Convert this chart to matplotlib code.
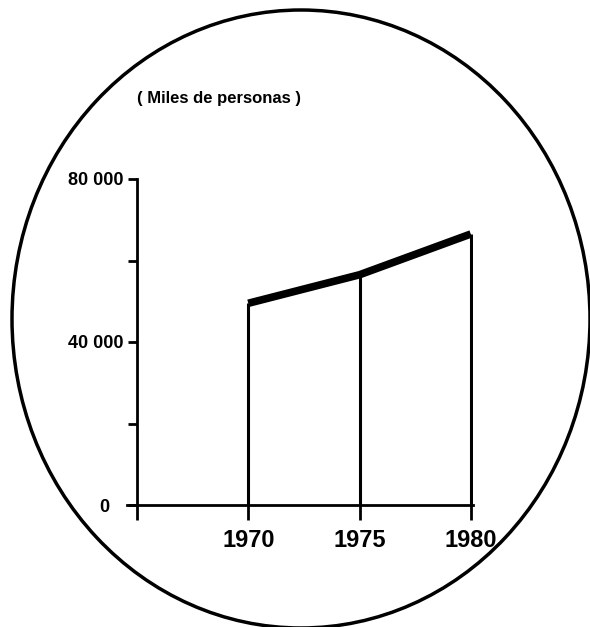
import matplotlib.pyplot as plt
from matplotlib.patches import Ellipse
from matplotlib.transforms import ScaledTranslation

# ==================== DATA ====================
years = [1970, 1975, 1980]
personas = [49500, 56500, 66500]  # miles de personas

x_ticks = [1965, 1970, 1975, 1980]
x_labels = ["", "1970", "1975", "1980"]
y_ticks = [0, 20000, 40000, 60000, 80000]
y_labels = ["0", "", "40 000", "", "80 000"]
unit_label = "( Miles de personas )"

# ==================== FIGURE ====================
plt.rcParams['font.family'] = ['Liberation Sans', 'DejaVu Sans']
fig = plt.figure(figsize=(5.9, 6.27), dpi=100)

# ejes fijos en coordenadas de figura
ax = fig.add_axes([127 / 590, 1 - 505 / 627, 346 / 590, 326 / 627])
ax.set_xlim(1964.55, 1980.1)
ax.set_ylim(0, 80000)

for side in ["top", "right"]:
    ax.spines[side].set_visible(False)
ax.spines["left"].set_position(("data", 1965))
ax.spines["left"].set_linewidth(2)
ax.spines["bottom"].set_linewidth(2)
ax.spines["bottom"].set_bounds(1964.55, 1980.1)

ax.vlines(years, 0, personas, color="black", linewidth=2.2)
ax.plot(years, personas, color="black", linewidth=5.5, solid_capstyle="butt")

ax.set_xticks(x_ticks)
ax.set_xticklabels(x_labels, fontsize=17, fontweight="bold")
ax.set_yticks(y_ticks)
ax.set_yticklabels(y_labels, fontsize=13, fontweight="bold")
ax.tick_params(axis="x", direction="out", length=11, width=2, pad=6)
ax.tick_params(axis="y", direction="out", length=6.5, width=2, pad=3)

# el "0" queda un poco más a la izquierda
zero = ax.get_yticklabels()[0]
zero.set_transform(zero.get_transform() + ScaledTranslation(-0.14, 0, fig.dpi_scale_trans))

fig.text(137 / 590, 1 - 98 / 627, unit_label, fontsize=12, fontweight="bold",
         ha="left", va="center")

# marco elíptico
ring = Ellipse((301 / 590, 1 - 319 / 627), 578 / 590, 618 / 627,
               transform=fig.transFigure, fill=False, edgecolor="black",
               linewidth=2.5, clip_on=False)
fig.patches.append(ring)

fig.savefig("out.png", dpi=100)
